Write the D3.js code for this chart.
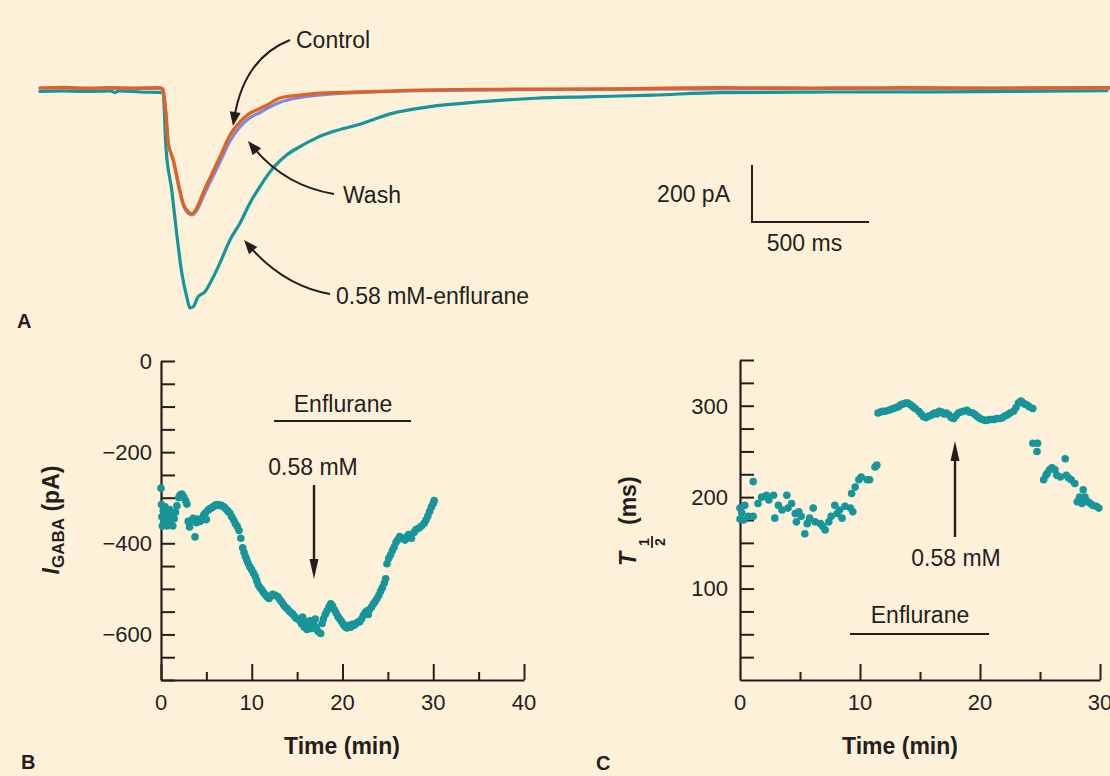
<!DOCTYPE html>
<html>
<head>
<meta charset="utf-8">
<script src="https://cdn.jsdelivr.net/npm/d3@7"></script>
<style>
  html, body { margin: 0; padding: 0; background: #fdf1da; }
  svg { display: block; }
  text { font-family: "Liberation Sans", Arial, Helvetica, sans-serif; fill: #241f1b; }
</style>
</head>
<body>
<div id="chart"></div>
<script>
// ---- data ----
// Panel A: current traces, [time (ms), current (pA)]
const traceControl = [[0,0],[100,2],[200,-1],[300,1],[400,0],[500,1],[524,-2],[538,-89],[548,-194],[570,-253],[591,-334],[612,-405],[634,-434],[648,-442],[670,-421],[697,-368],[726,-316],[769,-242],[812,-165],[855,-119],[897,-88],[926,-77],[969,-60],[1026,-35],[1111,-25],[1197,-18],[1282,-16],[1450,-12],[1624,-7],[1850,-5],[2051,-4],[2400,-3],[2906,1],[3300,0],[3675,1],[4100,0],[4573,1]];
const traceWash = [[0,0],[520,-2],[538,-86],[548,-190],[570,-255],[591,-338],[612,-410],[634,-440],[648,-445],[670,-430],[697,-382],[726,-332],[769,-260],[812,-186],[855,-136],[897,-104],[940,-86],[969,-72],[1026,-50],[1111,-33],[1197,-24],[1282,-19],[1450,-13],[1624,-9],[2051,-6],[2906,-3],[3675,-2],[4573,-1]];
const traceEnflurane = [[0,-12],[100,-10],[200,-12],[300,-10],[320,-16],[340,-10],[427,-14],[526,-16],[538,-206],[563,-358],[584,-509],[606,-649],[627,-732],[641,-772],[655,-767],[676,-732],[705,-715],[734,-674],[769,-614],[812,-533],[855,-474],[897,-404],[940,-346],[996,-281],[1054,-235],[1111,-206],[1182,-175],[1252,-153],[1355,-130],[1509,-88],[1661,-66],[1889,-48],[2118,-36],[2336,-31],[2620,-25],[2906,-16],[3380,-14],[4000,-13],[4560,-9]];
const scaleBarCurrent = 200;  // pA
const scaleBarTime = 500;     // ms

// Panel B: I_GABA over time, [time (min), current (pA)]
const gabaCurrent = [[0.0,-279],[0.05,-315],[0.1,-342],[0.15,-362],[0.25,-328],[0.35,-352],[0.45,-320],[0.55,-340],[0.65,-362],[0.75,-333],[0.85,-348],[0.95,-326],[1.05,-355],[1.15,-338],[1.3,-362],[1.45,-346],[1.6,-332],[1.75,-318],[1.95,-300],[2.1,-294],[2.3,-292],[2.5,-298],[2.7,-306],[2.85,-314],[3.0,-352],[3.15,-364],[3.35,-350],[3.55,-345],[3.75,-386],
  [3.9,-355],[4.1,-347],[4.3,-352],[4.5,-349],[4.7,-338],[4.9,-333],[5.0,-348],[5.2,-327],[5.4,-324],[5.6,-322],[5.8,-319],[6.0,-316],[6.2,-315],[6.4,-317],[6.6,-316],[6.8,-319],[7.0,-321],[7.2,-326],[7.4,-330],[7.6,-334],[7.8,-342],
  [8.0,-349],[8.2,-357],[8.4,-363],[8.6,-372],[8.8,-389],[9.0,-410],[9.15,-420],[9.3,-429],[9.45,-436],[9.6,-444],[9.8,-452],[10.0,-458],[10.2,-466],[10.4,-473],[10.55,-482],[10.7,-491],[10.9,-497],[11.1,-502],[11.3,-508],[11.5,-513],[11.7,-518],[11.9,-521],[12.1,-516],[12.3,-512],[12.6,-514],[12.9,-518],[13.1,-524],[13.3,-529],[13.5,-535],[13.7,-540],[13.9,-543],[14.1,-548],[14.3,-552],[14.5,-555],
  [14.7,-560],[14.9,-565],[15.1,-566],[15.3,-570],[15.5,-577],[15.6,-562],[15.8,-584],[15.95,-572],[16.1,-589],[16.3,-579],[16.45,-570],[16.6,-587],[16.8,-576],[17.0,-566],[17.1,-584],[17.3,-593],[17.6,-598],[17.75,-576],[17.9,-566],[18.1,-556],[18.3,-548],[18.5,-540],[18.7,-533],[18.9,-538],[19.1,-546],[19.3,-553],[19.5,-561],[19.7,-566],[19.9,-572],[20.1,-578],[20.3,-583],[20.5,-586],[20.7,-580],[20.9,-584],[21.1,-578],[21.3,-580],[21.5,-576],[21.7,-573],[21.9,-572],[22.1,-566],[22.3,-558],[22.5,-552],[22.7,-548],[22.85,-556],[23.0,-545],[23.2,-540],[23.4,-533],[23.6,-528],[23.8,-521],[24.0,-514],[24.2,-505],[24.4,-497],[24.6,-487],[24.75,-478],
  [24.9,-445],[25.1,-433],[25.3,-425],[25.5,-416],[25.7,-408],[25.9,-398],[26.1,-392],[26.3,-385],[26.6,-389],[26.9,-393],[27.1,-386],[27.3,-381],[27.6,-389],[27.9,-376],[28.1,-370],[28.4,-367],[28.7,-362],[29.0,-356],[29.2,-349],[29.4,-340],[29.6,-330],[29.8,-320],[30.0,-312],[30.1,-306]];

// Panel C: half-decay time over time, [time (min), T1/2 (ms)]
const halfTime = [[0.0,188],[0.0,176],[0.15,183],[0.3,175],[0.4,191],[0.7,179],[1.1,217],[1.1,179],[1.5,193],[1.8,200],[2.2,202],[2.4,197],[2.8,202],[2.9,177],[3.2,191],[3.5,186],[3.9,202],[4.0,188],[4.3,193],[4.6,182],[4.7,173],[4.9,184],[5.1,179],[5.4,160],[5.6,171],[5.8,177],[6.1,188],[6.25,173],[6.7,171],[6.9,168],[7.1,164],[7.4,173],[7.6,179],[7.9,191],[8.1,182],[8.3,186],[8.5,177],[8.75,190],[9.2,188],[9.4,184],[9.3,204],[9.6,211],[9.9,219],[10.1,222],[10.6,219],[10.8,219],[11.25,233],[11.4,235],
  [11.5,292],[11.7,293],[11.9,294],[12.1,294],[12.4,295],[12.6,296],[12.8,297],[13.0,298],[13.2,299],[13.4,301],[13.6,302],[13.8,303],[14.0,303],[14.2,301],[14.4,299],[14.6,297],[14.9,294],[15.1,291],[15.3,288],[15.5,287],[15.6,288],[15.8,289],[16.0,290],[16.2,292],[16.4,291],[16.6,294],[16.8,293],[17.0,291],[17.2,292],[17.4,290],[17.6,287],[17.8,286],[18.0,289],[18.2,292],[18.4,293],[18.6,294],[18.9,295],[19.1,293],[19.4,292],[19.6,290],[19.8,288],[20.0,286],[20.2,285],[20.4,284],[20.6,284],[20.8,285],[21.0,285],[21.2,285],[21.4,286],[21.7,286],[21.9,287],[22.1,289],[22.3,290],[22.5,292],[22.8,294],[23.0,298],[23.2,303],[23.4,305],[23.5,304],[23.7,302],[23.9,301],[24.1,299],[24.4,297],
  [24.4,259],[24.8,259],[24.75,250],[25.3,219],[25.5,224],[25.6,226],[25.8,230],[26.0,232],[26.25,230],[26.4,224],[26.7,222],[27.1,242],[27.2,224],[27.4,221],[27.6,219],[27.9,215],[28.1,195],[28.3,200],[28.5,193],[28.6,208],[28.75,200],[29.0,195],[29.2,193],[29.4,191],[29.7,190],[29.9,188]];

const bTicksY = [0, -200, -400, -600];
const bTicksX = [0, 10, 20, 30, 40];
const cTicksY = [100, 200, 300];
const cTicksX = [0, 10, 20, 30];

// ---- style ----
const W = 1110, H = 776;
const bg = '#fdf1da';
const ink = '#241f1b';
const teal = '#16969a';
const orange = '#e2621d';
const blue = '#7e89dc';
const fs = '23px';

const svg = d3.select('#chart').append('svg')
  .attr('width', W).attr('height', H)
  .attr('viewBox', [0, 0, W, H]);
svg.append('rect').attr('width', W).attr('height', H).attr('fill', bg);

// arrow helpers
function arrowHead(g, x1, y1, ux, uy, len, wid) {
  const n = Math.hypot(ux, uy); ux /= n; uy /= n;
  const bx = x1 - ux * len, by = y1 - uy * len;
  g.append('path')
    .attr('d', `M${x1},${y1} L${bx - uy * wid / 2},${by + ux * wid / 2} L${bx + uy * wid / 2},${by - ux * wid / 2} Z`)
    .attr('fill', ink);
}
function curvedArrow(g, x0, y0, cx, cy, x1, y1) {
  const ux = x1 - cx, uy = y1 - cy, n = Math.hypot(ux, uy);
  const ex = x1 - ux / n * 8, ey = y1 - uy / n * 8;
  g.append('path').attr('d', `M${x0},${y0} Q${cx},${cy} ${ex},${ey}`)
    .attr('fill', 'none').attr('stroke', ink).attr('stroke-width', 2);
  arrowHead(g, x1, y1, ux, uy, 14, 11);
}
function straightArrow(g, x, y0, y1) {
  g.append('line').attr('x1', x).attr('x2', x).attr('y1', y0).attr('y2', y1 - Math.sign(y1 - y0) * 10)
    .attr('stroke', ink).attr('stroke-width', 2.4);
  arrowHead(g, x, y1, 0, y1 - y0, 20, 9);
}

// ---- Panel A ----
const gA = svg.append('g');
const xA = d3.scaleLinear().domain([0, 4573]).range([40, 1110]);
const yA = d3.scaleLinear().domain([-800, 0]).range([316, 88]);
const lineA = d3.line().x(d => xA(d[0])).y(d => yA(d[1])).curve(d3.curveMonotoneX);

[[traceEnflurane, teal], [traceWash, blue], [traceControl, orange]].forEach(([data, col]) => {
  gA.append('path').datum(data).attr('d', lineA)
    .attr('fill', 'none').attr('stroke', col).attr('stroke-width', 3.2)
    .attr('stroke-linejoin', 'round').attr('stroke-linecap', 'round');
});

// scale bar
const sbX = 752, sbY = 222;
const sbH = yA(-scaleBarCurrent) - yA(0);
const sbW = xA(scaleBarTime) - xA(0);
gA.append('path').attr('d', `M${sbX},${sbY - sbH} V${sbY} H${sbX + sbW}`)
  .attr('fill', 'none').attr('stroke', ink).attr('stroke-width', 2);
gA.append('text').attr('x', sbX - 22).attr('y', sbY - sbH / 2 + 8).attr('text-anchor', 'end')
  .style('font-size', fs).text(`${scaleBarCurrent} pA`);
gA.append('text').attr('x', sbX + sbW / 2 - 6).attr('y', sbY + 29).attr('text-anchor', 'middle')
  .style('font-size', fs).text(`${scaleBarTime} ms`);

// trace labels
gA.append('text').attr('x', 296).attr('y', 48).style('font-size', fs).text('Control');
curvedArrow(gA, 290, 40, 244, 58, 233, 126);
gA.append('text').attr('x', 343).attr('y', 203).style('font-size', fs).text('Wash');
curvedArrow(gA, 334, 194, 285, 186, 248, 141);
gA.append('text').attr('x', 336).attr('y', 304).style('font-size', fs).text('0.58 mM-enflurane');
curvedArrow(gA, 330, 294, 284, 286, 244, 240);
gA.append('text').attr('x', 17).attr('y', 328).style('font-size', '20px').style('font-weight', 'bold').text('A');

// ---- axis helper ----
function drawAxes(g, x, y, yMinor, xMajor, xMinor) {
  g.append('g').attr('transform', `translate(${x.range()[0]},0)`)
    .call(d3.axisLeft(y).tickValues(yMinor).tickSize(-14).tickSizeOuter(0).tickFormat(''))
    .call(s => s.selectAll('line').attr('stroke', ink).attr('stroke-width', 2))
    .call(s => s.select('.domain').attr('stroke', ink).attr('stroke-width', 2.2));
  const y0 = y.range()[0];
  g.append('g').attr('transform', `translate(0,${y0})`)
    .call(d3.axisBottom(x).tickValues(xMajor).tickSize(-16).tickSizeOuter(0).tickFormat(''))
    .call(s => s.selectAll('line').attr('stroke', ink).attr('stroke-width', 2))
    .call(s => s.select('.domain').attr('stroke', ink).attr('stroke-width', 2.2));
  g.append('g').attr('transform', `translate(0,${y0})`)
    .call(d3.axisBottom(x).tickValues(xMinor).tickSize(-8).tickSizeOuter(0).tickFormat(''))
    .call(s => s.selectAll('line').attr('stroke', ink).attr('stroke-width', 2))
    .call(s => s.select('.domain').remove());
}

// ---- Panel B ----
const gB = svg.append('g');
const xB = d3.scaleLinear().domain([0, 40]).range([161, 524]);
const yB = d3.scaleLinear().domain([-700, 0]).range([680, 361]);
drawAxes(gB, xB, yB, d3.range(-700, 1, 50), bTicksX, [5, 15, 25, 35]);
gB.selectAll('.ty').data(bTicksY).join('text')
  .attr('x', 152).attr('y', d => yB(d)).attr('dy', '0.36em').attr('text-anchor', 'end')
  .style('font-size', '22px').text(d => d3.format('d')(d));
gB.selectAll('.tx').data(bTicksX).join('text')
  .attr('x', d => xB(d)).attr('y', 710).attr('text-anchor', 'middle')
  .style('font-size', '22px').text(d => d);
gB.append('text').attr('x', 342).attr('y', 754).attr('text-anchor', 'middle')
  .style('font-size', fs).style('font-weight', 'bold').text('Time (min)');
const labB = gB.append('text').attr('transform', 'translate(59,520) rotate(-90)')
  .attr('text-anchor', 'middle').style('font-size', fs).style('font-weight', 'bold');
labB.append('tspan').style('font-style', 'italic').text('I');
labB.append('tspan').attr('dy', 5).style('font-size', '17px').text('GABA');
labB.append('tspan').attr('dy', -5).text(' (pA)');
gB.append('text').attr('x', 21).attr('y', 769).style('font-size', '20px').style('font-weight', 'bold').text('B');

gB.selectAll('circle').data(gabaCurrent).join('circle')
  .attr('cx', d => xB(d[0])).attr('cy', d => yB(d[1])).attr('r', 3.8).attr('fill', teal);

gB.append('text').attr('x', 343).attr('y', 412).attr('text-anchor', 'middle')
  .style('font-size', fs).text('Enflurane');
gB.append('line').attr('x1', 274).attr('x2', 411).attr('y1', 421).attr('y2', 421)
  .attr('stroke', ink).attr('stroke-width', 2);
gB.append('text').attr('x', 313).attr('y', 475).attr('text-anchor', 'middle')
  .style('font-size', fs).text('0.58 mM');
straightArrow(gB, 314, 485, 579);

// ---- Panel C ----
const gC = svg.append('g');
const xC = d3.scaleLinear().domain([0, 30]).range([740, 1100]);
const yC = d3.scaleLinear().domain([0, 350]).range([680, 360]);
drawAxes(gC, xC, yC, d3.range(25, 351, 25), [10, 20, 30], [5, 15, 25]);
gC.selectAll('.ty').data(cTicksY).join('text')
  .attr('x', 728).attr('y', d => yC(d)).attr('dy', '0.36em').attr('text-anchor', 'end')
  .style('font-size', '22px').text(d => d);
gC.selectAll('.tx').data(cTicksX).join('text')
  .attr('x', d => xC(d)).attr('y', 710).attr('text-anchor', 'middle')
  .style('font-size', '22px').text(d => d);
gC.append('text').attr('x', 900).attr('y', 754).attr('text-anchor', 'middle')
  .style('font-size', fs).style('font-weight', 'bold').text('Time (min)');
const labC = gC.append('g').attr('transform', 'translate(636,519) rotate(-90)');
labC.append('text').attr('x', -47).attr('y', 0).style('font-size', fs)
  .style('font-weight', 'bold').style('font-style', 'italic').text('T');
labC.append('text').attr('x', -23).attr('y', 13).attr('text-anchor', 'middle')
  .style('font-size', '14px').style('font-weight', 'bold').text('1');
labC.append('line').attr('x1', -29).attr('x2', -17).attr('y1', 16).attr('y2', 16)
  .attr('stroke', ink).attr('stroke-width', 1.8);
labC.append('text').attr('x', -23).attr('y', 29).attr('text-anchor', 'middle')
  .style('font-size', '14px').style('font-weight', 'bold').text('2');
labC.append('text').attr('x', -6).attr('y', 0).style('font-size', fs)
  .style('font-weight', 'bold').text('(ms)');
gC.append('text').attr('x', 596).attr('y', 770).style('font-size', '20px').style('font-weight', 'bold').text('C');

gC.selectAll('circle').data(halfTime).join('circle')
  .attr('cx', d => xC(d[0])).attr('cy', d => yC(d[1])).attr('r', 3.8).attr('fill', teal);

gC.append('text').attr('x', 920).attr('y', 623).attr('text-anchor', 'middle')
  .style('font-size', fs).text('Enflurane');
gC.append('line').attr('x1', 850).attr('x2', 989).attr('y1', 634).attr('y2', 634)
  .attr('stroke', ink).attr('stroke-width', 2);
gC.append('text').attr('x', 956).attr('y', 566).attr('text-anchor', 'middle')
  .style('font-size', fs).text('0.58 mM');
straightArrow(gC, 955, 537, 441);
</script>
</body>
</html>
